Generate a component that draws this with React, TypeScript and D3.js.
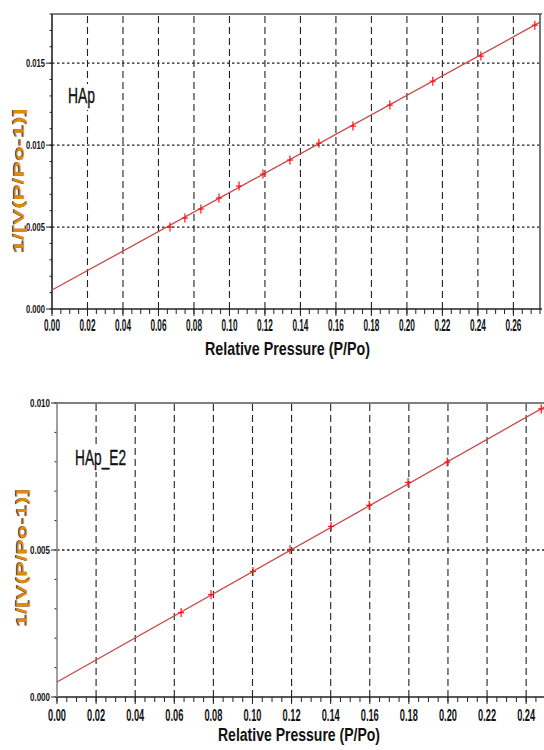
import React from "react";
import * as d3 from "d3";

// ---------- Data: HAp ----------
const hapX = [0.0665, 0.0749, 0.0839, 0.0941, 0.1054, 0.1189, 0.1341, 0.1504, 0.1696, 0.1904, 0.2146, 0.2417, 0.2721];
const hapY = [0.0050, 0.00555, 0.0061, 0.00677, 0.0075, 0.00823, 0.00909, 0.01012, 0.01116, 0.01244, 0.0139, 0.01543, 0.01732];
const hapFitX = [0, 0.275];
const hapFitY = [0.00116, 0.0175];
const hapXTicks = [0, 0.02, 0.04, 0.06, 0.08, 0.1, 0.12, 0.14, 0.16, 0.18, 0.2, 0.22, 0.24, 0.26];
const hapXTickLabels = ["0.00", "0.02", "0.04", "0.06", "0.08", "0.10", "0.12", "0.14", "0.16", "0.18", "0.20", "0.22", "0.24", "0.26"];
const hapYTicks = [0, 0.005, 0.01, 0.015];
const hapYTickLabels = ["0.000", "0.005", "0.010", "0.015"];

// ---------- Data: HAp_E2 ----------
const e2X = [0.0635, 0.0788, 0.1003, 0.1192, 0.1402, 0.1597, 0.1796, 0.1996, 0.2477];
const e2Y = [0.00287, 0.00348, 0.00427, 0.00502, 0.0058, 0.00652, 0.0073, 0.00799, 0.0098];
const e2FitX = [0, 0.25];
const e2FitY = [0.00051, 0.00989];
const e2XTicks = [0, 0.02, 0.04, 0.06, 0.08, 0.1, 0.12, 0.14, 0.16, 0.18, 0.2, 0.22, 0.24];
const e2XTickLabels = ["0.00", "0.02", "0.04", "0.06", "0.08", "0.10", "0.12", "0.14", "0.16", "0.18", "0.20", "0.22", "0.24"];
const e2YTicks = [0, 0.005, 0.01];
const e2YTickLabels = ["0.000", "0.005", "0.010"];

const xTitle = "Relative Pressure (P/Po)";
const yTitle = "1/[V(P/Po-1)]";

const FONT = "'Liberation Sans', Arial, sans-serif";

type Cfg = {
  xs: number[]; ys: number[]; fitX: number[]; fitY: number[];
  xDomain: [number, number]; xRange: [number, number];
  yDomain: [number, number]; yRange: [number, number];
  xTicks: number[]; xTickLabels: string[]; yTicks: number[]; yTickLabels: string[];
  xMinorStep: number; yMinorStep: number;
  title: string; titleX: number; titleY: number; titleW: number;
  yLabelStart: number; yLabelW: number;
  xTickBase: number; xTickW: number;
  xLabelX: number; xLabelBase: number; xLabelW: number;
  yTitleCx: number; yTitleCy: number; yTitleLen: number;
  rightBorder: boolean; leftAxisColor: string;
};

function Chart({ c }: { c: Cfg }) {
  const x = d3.scaleLinear().domain(c.xDomain).range(c.xRange);
  const y = d3.scaleLinear().domain(c.yDomain).range(c.yRange);
  const [x0, x1] = c.xRange;
  const [yb, yt] = c.yRange;
  const xMinor = d3.range(c.xDomain[0], c.xDomain[1] + 1e-9, c.xMinorStep);
  const yMinor = d3.range(c.yDomain[0], c.yDomain[1] + 1e-9, c.yMinorStep);
  const line = d3.line<number>().x((_, i) => x(c.fitX[i])).y((d) => y(d));
  const xRight = Math.min(x1, 544);
  return (
    <g>
      {/* grid */}
      {c.xTicks.filter((t) => t > 0).map((t, i) => (
        <line key={"gx" + i} x1={x(t)} x2={x(t)} y1={yb} y2={yt} stroke="#222" strokeWidth={1.1} strokeDasharray="7,4" />
      ))}
      {c.yTicks.filter((t) => t > 0 && y(t) > yt + 1).map((t, i) => (
        <line key={"gy" + i} x1={x0} x2={xRight} y1={y(t)} y2={y(t)} stroke="#222" strokeWidth={1.3} strokeDasharray="2.5,2.5" />
      ))}
      {/* minor ticks */}
      {xMinor.map((t, i) => (
        <line key={"mx" + i} x1={x(t)} x2={x(t)} y1={yb} y2={yb + 5} stroke="#222" strokeWidth={1} />
      ))}
      {c.xTicks.map((t, i) => (
        <line key={"Mx" + i} x1={x(t)} x2={x(t)} y1={yb} y2={yb + 7} stroke="#222" strokeWidth={1} />
      ))}
      {yMinor.map((t, i) => (
        <line key={"my" + i} x1={x0 - 2.5} x2={x0} y1={y(t)} y2={y(t)} stroke="#222" strokeWidth={1} />
      ))}
      {c.yTicks.map((t, i) => (
        <line key={"My" + i} x1={x0 - 6} x2={x0} y1={y(t)} y2={y(t)} stroke="#222" strokeWidth={1} />
      ))}
      {/* frame */}
      <line x1={x0} x2={xRight + 2} y1={yt} y2={yt} stroke="#555" strokeWidth={1.6} />
      {c.rightBorder && <line x1={x1} x2={x1} y1={yt} y2={yb} stroke="#555" strokeWidth={1.6} />}
      <line x1={x0} x2={xRight + 2} y1={yb} y2={yb} stroke="#222" strokeWidth={1.6} />
      <line x1={x0} x2={x0} y1={yt} y2={yb} stroke={c.leftAxisColor} strokeWidth={1.6} />
      {/* fit line */}
      <path d={line(c.fitY) || ""} fill="none" stroke="#c84848" strokeWidth={1.3} />
      {/* markers */}
      {c.xs.map((v, i) => (
        <g key={"p" + i} stroke="#ff1010" strokeWidth={1.2}>
          <line x1={x(v) - 3} x2={x(v) + 3} y1={y(c.ys[i])} y2={y(c.ys[i])} />
          <line x1={x(v)} x2={x(v)} y1={y(c.ys[i]) - 4.5} y2={y(c.ys[i]) + 4.5} />
        </g>
      ))}
      {/* tick labels */}
      {c.xTicks.map((t, i) => (
        <text key={"xl" + i} x={x(t) - c.xTickW / 2} y={c.xTickBase} fontFamily={FONT} fontWeight="bold" fontSize={16}
          textLength={c.xTickW} lengthAdjust="spacingAndGlyphs" fill="#111">{c.xTickLabels[i]}</text>
      ))}
      {c.yTicks.map((t, i) => (
        <text key={"yl" + i} x={c.yLabelStart} y={y(t) + 4.2} fontFamily={FONT} fontWeight="bold" fontSize={11.5}
          textLength={c.yLabelW} lengthAdjust="spacingAndGlyphs" fill="#111">{c.yTickLabels[i]}</text>
      ))}
      {/* title with white box */}
      <rect x={c.titleX - 2} y={c.titleY - 19} width={c.titleW + 4} height={26} fill="#fff" />
      <text x={c.titleX} y={c.titleY} fontFamily={FONT} fontSize={22} textLength={c.titleW}
        lengthAdjust="spacingAndGlyphs" fill="#111" stroke="#111" strokeWidth={0.4}>{c.title}</text>
      {/* x axis title */}
      <text x={c.xLabelX} y={c.xLabelBase} fontFamily={FONT} fontWeight="bold" fontSize={19} textLength={c.xLabelW}
        lengthAdjust="spacingAndGlyphs" fill="#111">{xTitle}</text>
      {/* y axis title */}
      <g transform={`translate(${c.yTitleCx},${c.yTitleCy}) rotate(-90)`}>
        <text x={-c.yTitleLen / 2} y={5.5 - 1} fontFamily={FONT} fontWeight="bold" fontSize={15} textLength={c.yTitleLen}
          lengthAdjust="spacingAndGlyphs" fill="#1f3a8a">{yTitle}</text>
        <text x={-c.yTitleLen / 2} y={5.5} fontFamily={FONT} fontWeight="bold" fontSize={15} textLength={c.yTitleLen}
          lengthAdjust="spacingAndGlyphs" fill="#e08a08">{yTitle}</text>
      </g>
    </g>
  );
}

const topCfg: Cfg = {
  xs: hapX, ys: hapY, fitX: hapFitX, fitY: hapFitY,
  xDomain: [0, 0.275], xRange: [52, 540], yDomain: [0, 0.018], yRange: [309, 14],
  xTicks: hapXTicks, xTickLabels: hapXTickLabels, yTicks: hapYTicks, yTickLabels: hapYTickLabels,
  xMinorStep: 0.005, yMinorStep: 0.001,
  title: "HAp", titleX: 68, titleY: 103, titleW: 27,
  yLabelStart: 26, yLabelW: 19,
  xTickBase: 331, xTickW: 16,
  xLabelX: 205, xLabelBase: 355, xLabelW: 165,
  yTitleCx: 18, yTitleCy: 181, yTitleLen: 145,
  rightBorder: true, leftAxisColor: "#222",
};

const botCfg: Cfg = {
  xs: e2X, ys: e2Y, fitX: e2FitX, fitY: e2FitY,
  xDomain: [0, 0.25], xRange: [57, 545.7], yDomain: [0, 0.01], yRange: [697, 403],
  xTicks: e2XTicks, xTickLabels: e2XTickLabels, yTicks: e2YTicks, yTickLabels: e2YTickLabels,
  xMinorStep: 0.005, yMinorStep: 0.001,
  title: "HAp_E2", titleX: 75, titleY: 465, titleW: 51,
  yLabelStart: 30, yLabelW: 20,
  xTickBase: 721, xTickW: 18,
  xLabelX: 218, xLabelBase: 741, xLabelW: 162,
  yTitleCx: 21, yTitleCy: 558, yTitleLen: 138,
  rightBorder: false, leftAxisColor: "#888",
};

export default function App() {
  return (
    <svg width={544} height={750} style={{ position: "absolute", left: 0, top: 0, background: "#fff" }}>
      <rect width={544} height={750} fill="#fff" />
      <Chart c={topCfg} />
      <Chart c={botCfg} />
    </svg>
  );
}
